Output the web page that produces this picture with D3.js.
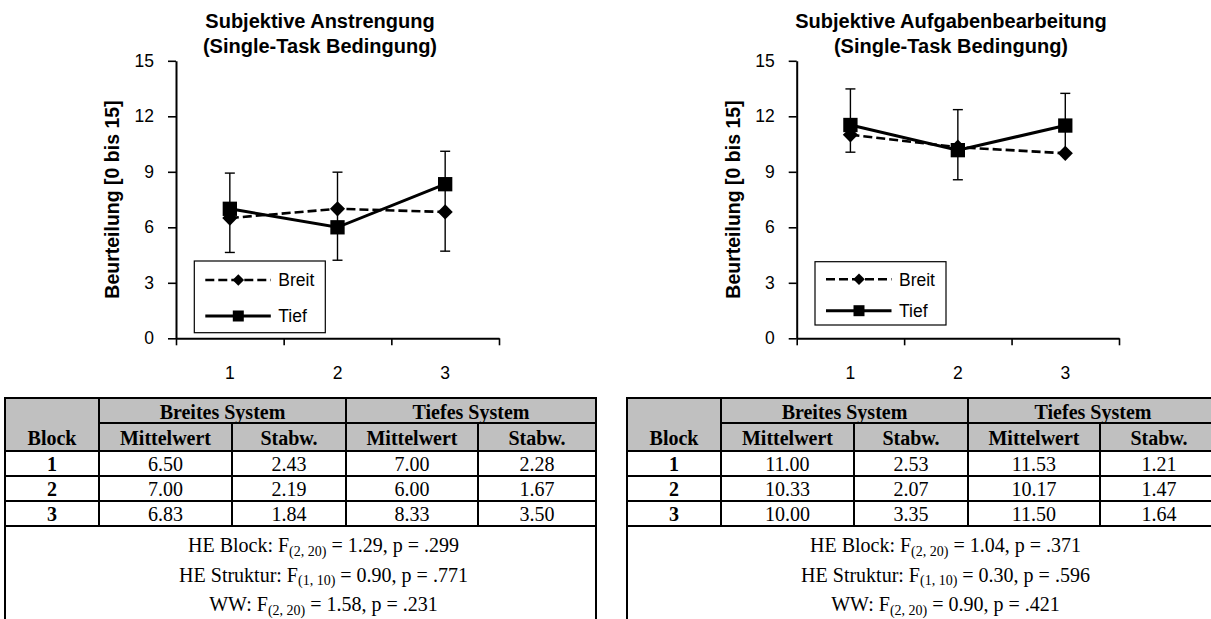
<!DOCTYPE html>
<html>
<head>
<meta charset="utf-8">
<script src="https://cdn.jsdelivr.net/npm/d3@7"></script>
<style>
  html, body { margin: 0; padding: 0; background: #fff; }
  svg { display: block; }
  .sans { font-family: "Liberation Sans", Arial, sans-serif; }
  .serif { font-family: "Liberation Serif", "Times New Roman", serif; }
</style>
</head>
<body>
<script>
// ---- data ----
const blocks = ["1", "2", "3"];
const yTicks = [0, 3, 6, 9, 12, 15];
const seriesNames = ["Breit", "Tief"];

// Subjektive Anstrengung
const effortBreit = [6.50, 7.00, 6.83];
const effortTief = [7.00, 6.00, 8.33];
const effortSdBreit = [2.43, 2.19, 1.84];
const effortSdTief = [2.28, 1.67, 3.50];
const effortBarLow = [4.64, 4.22, 4.71];
const effortBarHigh = [8.93, 8.98, 10.11];
const effortStats = [
  ["HE Block: F", "(2, 20)", " = 1.29, p = .299"],
  ["HE Struktur: F", "(1, 10)", " = 0.90, p = .771"],
  ["WW: F", "(2, 20)", " = 1.58, p = .231"]
];

// Subjektive Aufgabenbearbeitung
const taskBreit = [11.00, 10.33, 10.00];
const taskTief = [11.53, 10.17, 11.50];
const taskSdBreit = [2.53, 2.07, 3.35];
const taskSdTief = [1.21, 1.47, 1.64];
const taskBarLow = [10.06, 8.57, 10.00];
const taskBarHigh = [13.48, 12.36, 13.24];
const taskStats = [
  ["HE Block: F", "(2, 20)", " = 1.04, p = .371"],
  ["HE Struktur: F", "(1, 10)", " = 0.30, p = .596"],
  ["WW: F", "(2, 20)", " = 0.90, p = .421"]
];

const tableGroups = ["Breites System", "Tiefes System"];
const tableSubHeads = ["Block", "Mittelwert", "Stabw.", "Mittelwert", "Stabw."];

// ---- drawing ----
const W = 1211, H = 619;
const svg = d3.select("body").append("svg").attr("width", W).attr("height", H);

// a square symbol, rotated 45° where it is used, gives an even diamond
function diamondPath(area) {
  return d3.symbol(d3.symbolSquare, area)();
}

function drawChart(cfg) {
  const g = svg.append("g").attr("class", "sans");
  const x = d3.scaleBand().domain(blocks).range([cfg.x0, cfg.x1]).padding(0);
  const y = d3.scaleLinear().domain([0, 15]).range([338.3, 60.8]);
  const cx = b => x(b) + x.bandwidth() / 2;

  // title
  const title = g.append("text").attr("text-anchor", "middle")
    .attr("font-weight", "bold").attr("font-size", 20).attr("fill", "#000");
  cfg.title.forEach((t, i) => {
    title.append("tspan").attr("x", cfg.titleX).attr("y", 27.5 + i * 25.2).text(t);
  });

  // y axis
  const yAxis = g.append("g").attr("transform", `translate(${cfg.x0},0)`)
    .call(d3.axisLeft(y).tickValues(yTicks).tickSize(8).tickSizeOuter(0).tickPadding(14));
  yAxis.select(".domain").attr("stroke", "#000").attr("stroke-width", 2);
  yAxis.selectAll(".tick line").attr("stroke", "#000").attr("stroke-width", 1.6);
  yAxis.selectAll(".tick text").attr("font-size", 17.5).attr("font-family", "Liberation Sans, Arial, sans-serif").attr("fill", "#000");

  // x axis: boundary ticks and centred category labels
  const xEdge = d3.scaleLinear().domain([0, blocks.length]).range([cfg.x0, cfg.x1]);
  const xAxis = g.append("g").attr("transform", `translate(0,${y(0)})`)
    .call(d3.axisBottom(xEdge).tickValues(d3.range(blocks.length + 1)).tickFormat("").tickSize(7).tickSizeOuter(0));
  xAxis.select(".domain").attr("stroke", "#000").attr("stroke-width", 2);
  xAxis.selectAll(".tick line").attr("stroke", "#000").attr("stroke-width", 1.6);
  const xLab = g.append("g").attr("transform", `translate(0,${y(0)})`)
    .call(d3.axisBottom(x).tickSize(0).tickPadding(28));
  xLab.select(".domain").remove();
  xLab.selectAll(".tick text").attr("font-size", 17.5).attr("font-family", "Liberation Sans, Arial, sans-serif").attr("fill", "#000");

  // y axis title
  g.append("text")
    .attr("transform", `translate(${cfg.x0 - 64},${(y(0) + y(15)) / 2}) rotate(-90)`)
    .attr("text-anchor", "middle").attr("dominant-baseline", "central")
    .attr("font-weight", "bold").attr("font-size", 19.5).attr("fill", "#000")
    .text("Beurteilung [0 bis 15]");

  // error bars
  const bars = blocks.map((b, i) => ({ b, lo: cfg.low[i], hi: cfg.high[i] }));
  const eb = g.append("g").attr("stroke", "#000").attr("stroke-width", 1.4).attr("fill", "none");
  eb.selectAll("line.v").data(bars).join("line").attr("class", "v")
    .attr("x1", d => cx(d.b)).attr("x2", d => cx(d.b))
    .attr("y1", d => y(d.lo)).attr("y2", d => y(d.hi));
  eb.selectAll("line.capHi").data(bars).join("line").attr("class", "capHi")
    .attr("x1", d => cx(d.b) - 5).attr("x2", d => cx(d.b) + 5)
    .attr("y1", d => y(d.hi)).attr("y2", d => y(d.hi));
  eb.selectAll("line.capLo").data(bars).join("line").attr("class", "capLo")
    .attr("x1", d => cx(d.b) - 5).attr("x2", d => cx(d.b) + 5)
    .attr("y1", d => y(d.lo)).attr("y2", d => y(d.lo));

  const line = d3.line().x(d => cx(d.b)).y(d => y(d.v));
  const breit = blocks.map((b, i) => ({ b, v: cfg.breit[i] }));
  const tief = blocks.map((b, i) => ({ b, v: cfg.tief[i] }));

  g.append("path").datum(breit).attr("d", line).attr("fill", "none")
    .attr("stroke", "#000").attr("stroke-width", 2.6).attr("stroke-dasharray", "9,4");
  g.append("path").datum(tief).attr("d", line).attr("fill", "none")
    .attr("stroke", "#000").attr("stroke-width", 3);

  g.selectAll("path.breit").data(breit).join("path").attr("class", "breit")
    .attr("d", diamondPath(115))
    .attr("transform", d => `translate(${cx(d.b)},${y(d.v)}) rotate(45)`).attr("fill", "#000");
  g.selectAll("path.tief").data(tief).join("path").attr("class", "tief")
    .attr("d", d3.symbol(d3.symbolSquare, 205)())
    .attr("transform", d => `translate(${cx(d.b)},${y(d.v)})`).attr("fill", "#000");

  // legend
  const lg = g.append("g").attr("transform", `translate(${cfg.x0 + 18.3},${cfg.legendTop})`);
  lg.append("rect").attr("x", 0).attr("y", 0).attr("width", 131).attr("height", cfg.legendH)
    .attr("fill", "#fff").attr("stroke", "#000").attr("stroke-width", 1.2);
  seriesNames.forEach((name, i) => {
    const ry = cfg.legendRows[i];
    const row = lg.append("g").attr("transform", `translate(0,${ry})`);
    row.append("line").attr("x1", 11).attr("x2", 76.5).attr("y1", 0).attr("y2", 0)
      .attr("stroke", "#000").attr("stroke-width", i === 0 ? 2.6 : 3)
      .attr("stroke-dasharray", i === 0 ? "9,4" : null);
    if (i === 0) {
      row.append("path").attr("d", diamondPath(66)).attr("transform", "translate(44,0) rotate(45)").attr("fill", "#000");
    } else {
      row.append("path").attr("d", d3.symbol(d3.symbolSquare, 121)()).attr("transform", "translate(44,0)").attr("fill", "#000");
    }
    row.append("text").attr("x", 84).attr("y", 0).attr("dy", "0.36em")
      .attr("font-size", 17.5).attr("fill", "#000").text(name);
  });
}

function drawTable(cfg) {
  const g = svg.append("g").attr("class", "serif").attr("transform", `translate(${cfg.dx},0)`);
  const cols = [5, 99, 232, 346, 478, 596];
  const rows = [398, 423, 451, 476, 501, 526];
  const bottom = 630;
  const fs = 20;

  g.append("rect").attr("x", cols[0]).attr("y", rows[0])
    .attr("width", cols[5] - cols[0]).attr("height", rows[2] - rows[0]).attr("fill", "#c0c0c0");

  const seg = (x1, y1, x2, y2) => g.append("line").attr("x1", x1).attr("y1", y1).attr("x2", x2).attr("y2", y2)
    .attr("stroke", "#000").attr("stroke-width", 2);
  seg(cols[0] - 1, rows[0], cols[5] + 1, rows[0]);
  seg(cols[1], rows[1], cols[5], rows[1]);
  [rows[2], rows[3], rows[4], rows[5]].forEach(r => seg(cols[0], r, cols[5], r));
  seg(cols[0], rows[0], cols[0], bottom);
  seg(cols[5], rows[0], cols[5], bottom);
  seg(cols[1], rows[0], cols[1], rows[5]);
  seg(cols[3], rows[0], cols[3], rows[5]);
  seg(cols[2], rows[1], cols[2], rows[5]);
  seg(cols[4], rows[1], cols[4], rows[5]);

  const txt = (x, yc, s, bold) => g.append("text").attr("x", x).attr("y", yc + 7)
    .attr("text-anchor", "middle").attr("font-size", fs)
    .attr("font-weight", bold ? "bold" : "normal").attr("fill", "#000").text(s);

  const mid = (a, b) => (a + b) / 2;
  txt(mid(cols[1], cols[3]), mid(rows[0], rows[1]) + 1.5, tableGroups[0], true);
  txt(mid(cols[3], cols[5]), mid(rows[0], rows[1]) + 1.5, tableGroups[1], true);
  tableSubHeads.forEach((h, i) => txt(mid(cols[i], cols[i + 1]), mid(rows[1], rows[2]) + 0.5, h, true));

  blocks.forEach((b, i) => {
    const yc = mid(rows[2 + i], rows[3 + i]) + 0.5;
    txt(mid(cols[0], cols[1]), yc, b, true);
    const vals = [cfg.breit[i], cfg.sdBreit[i], cfg.tief[i], cfg.sdTief[i]];
    vals.forEach((v, j) => txt(mid(cols[j + 1], cols[j + 2]), yc, v.toFixed(2), false));
  });

  const statCx = mid(cols[0], cols[5]) + 23;
  cfg.stats.forEach((s, i) => {
    const t = g.append("text").attr("x", statCx).attr("y", 552 + i * 29.5)
      .attr("text-anchor", "middle").attr("font-size", fs).attr("fill", "#000");
    t.append("tspan").text(s[0]);
    t.append("tspan").attr("font-size", 14).attr("dy", 3.5).text(s[1]);
    t.append("tspan").attr("dy", -3.5).text(s[2]);
  });
}

drawChart({
  x0: 176, x1: 499, titleX: 320,
  title: ["Subjektive Anstrengung", "(Single-Task Bedingung)"],
  breit: effortBreit, tief: effortTief, low: effortBarLow, high: effortBarHigh,
  legendTop: 261, legendH: 71.7, legendRows: [19, 55]
});
drawChart({
  x0: 796.7, x1: 1119, titleX: 951,
  title: ["Subjektive Aufgabenbearbeitung", "(Single-Task Bedingung)"],
  breit: taskBreit, tief: taskTief, low: taskBarLow, high: taskBarHigh,
  legendTop: 261.7, legendH: 63.3, legendRows: [17.6, 49]
});

drawTable({ dx: 0, breit: effortBreit, sdBreit: effortSdBreit, tief: effortTief, sdTief: effortSdTief, stats: effortStats });
drawTable({ dx: 622, breit: taskBreit, sdBreit: taskSdBreit, tief: taskTief, sdTief: taskSdTief, stats: taskStats });
</script>
</body>
</html>
